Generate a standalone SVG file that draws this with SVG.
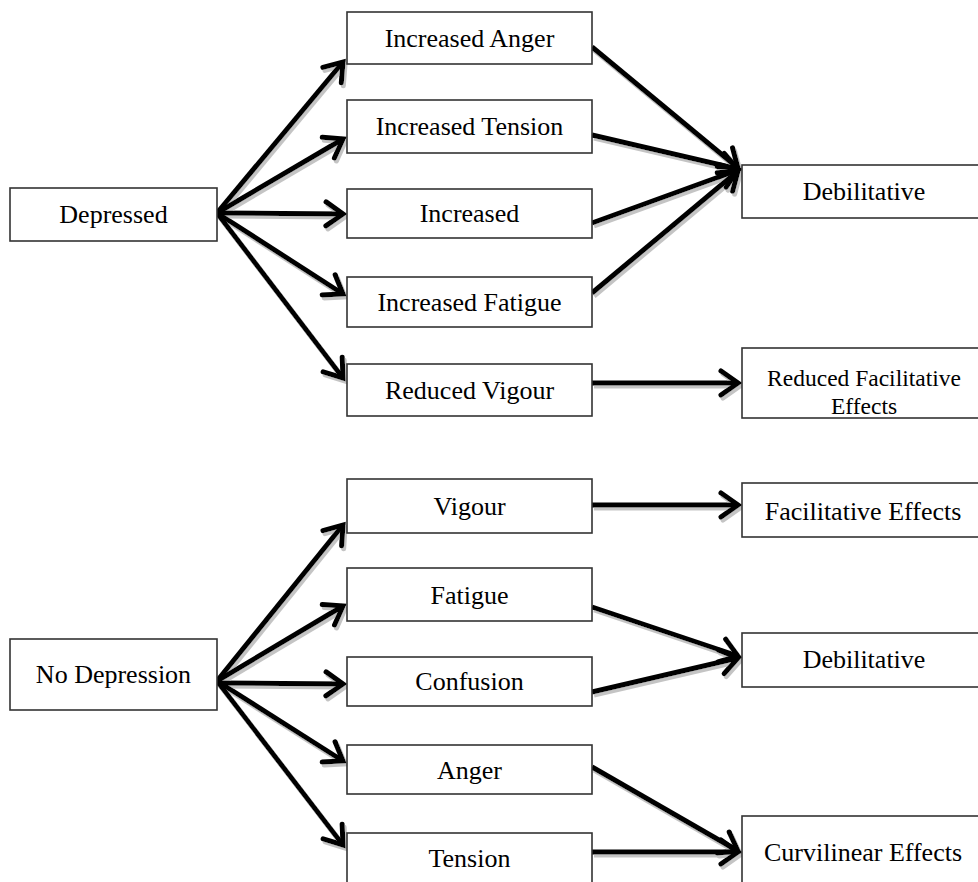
<svg xmlns="http://www.w3.org/2000/svg" width="978" height="882" viewBox="0 0 978 882">
  <style>
    .box { fill: #ffffff; stroke: #333333; stroke-width: 1.6; }
    .lbl { font-family: "Liberation Serif", "Times New Roman", serif; font-size: 26px; fill: #000000; text-anchor: middle; }
    .sm { font-size: 23.5px; }
    .arw { fill: none; stroke: #000000; stroke-width: 5; marker-end: url(#head); }
  </style>
  <defs>
    <marker id="head" markerUnits="userSpaceOnUse" viewBox="-24 -18 30 36" markerWidth="30" markerHeight="36" refX="0" refY="0" orient="auto">
      <path d="M-17,-12 L0,0 L-17,12" fill="none" stroke="#000000" stroke-width="5" stroke-linecap="round" stroke-linejoin="miter"/>
    </marker>
    <!-- soft grey drop shade under the connectors -->
    <filter id="shade" filterUnits="userSpaceOnUse" x="0" y="0" width="978" height="882">
      <feOffset in="SourceAlpha" dx="2" dy="2.5" result="off"/>
      <feFlood flood-color="#c4c4c4" result="grey"/>
      <feComposite in="grey" in2="off" operator="in" result="shadow"/>
      <feMerge>
        <feMergeNode in="shadow"/>
        <feMergeNode in="SourceGraphic"/>
      </feMerge>
    </filter>
  </defs>

  <rect width="978" height="882" fill="#ffffff"/>

  <g id="connectors" filter="url(#shade)">
    <!-- Depressed fan -->
    <path class="arw" d="M217,213 L343,62"/>
    <path class="arw" d="M217,213 L343,139"/>
    <path class="arw" d="M217,213 L343,214"/>
    <path class="arw" d="M217,213 L343,294"/>
    <path class="arw" d="M217,213 L343,378"/>
    <!-- into Debilitative -->
    <path class="arw" d="M592,47 L738,168"/>
    <path class="arw" d="M592,135 L738,169"/>
    <path class="arw" d="M592,223 L738,170"/>
    <path class="arw" d="M592,293 L738,171"/>
    <path class="arw" d="M592,383 L738,383"/>
    <!-- No Depression fan -->
    <path class="arw" d="M217,681 L343,525"/>
    <path class="arw" d="M217,681 L343,606"/>
    <path class="arw" d="M217,683 L343,684"/>
    <path class="arw" d="M217,681 L343,761"/>
    <path class="arw" d="M217,681 L343,845"/>
    <!-- right-hand outcomes -->
    <path class="arw" d="M592,505 L738,505"/>
    <path class="arw" d="M592,607 L738,656"/>
    <path class="arw" d="M592,692 L738,658"/>
    <path class="arw" d="M592,767 L738,851"/>
    <path class="arw" d="M592,852 L738,852"/>
  </g>

  <g id="n-depressed"><rect class="box" x="10" y="188" width="207" height="53"/><text class="lbl" x="113.5" y="223">Depressed</text></g>
  <g id="n-inc-anger"><rect class="box" x="347" y="12" width="245" height="52"/><text class="lbl" x="469.5" y="46.5">Increased Anger</text></g>
  <g id="n-inc-tension"><rect class="box" x="347" y="100" width="245" height="53"/><text class="lbl" x="469.5" y="135">Increased Tension</text></g>
  <g id="n-increased"><rect class="box" x="347" y="189" width="245" height="49"/><text class="lbl" x="469.5" y="222">Increased</text></g>
  <g id="n-inc-fatigue"><rect class="box" x="347" y="277" width="245" height="50"/><text class="lbl" x="469.5" y="311">Increased Fatigue</text></g>
  <g id="n-red-vigour"><rect class="box" x="347" y="364" width="245" height="52"/><text class="lbl" x="469.5" y="399">Reduced Vigour</text></g>
  <g id="n-debil-1"><rect class="box" x="742" y="165" width="250" height="53"/><text class="lbl" x="864" y="200">Debilitative</text></g>
  <g id="n-red-facil"><rect class="box" x="742" y="348" width="250" height="70"/><text class="lbl sm" x="864" y="386">Reduced Facilitative</text><text class="lbl sm" x="864" y="414">Effects</text></g>

  <g id="n-no-depression"><rect class="box" x="10" y="639" width="207" height="71"/><text class="lbl" x="113.5" y="683">No Depression</text></g>
  <g id="n-vigour"><rect class="box" x="347" y="479" width="245" height="54"/><text class="lbl" x="469.5" y="515">Vigour</text></g>
  <g id="n-fatigue"><rect class="box" x="347" y="568" width="245" height="53"/><text class="lbl" x="469.5" y="604">Fatigue</text></g>
  <g id="n-confusion"><rect class="box" x="347" y="657" width="245" height="49"/><text class="lbl" x="469.5" y="690">Confusion</text></g>
  <g id="n-anger"><rect class="box" x="347" y="745" width="245" height="49"/><text class="lbl" x="469.5" y="779">Anger</text></g>
  <g id="n-tension"><rect class="box" x="347" y="833" width="245" height="53"/><text class="lbl" x="469.5" y="867">Tension</text></g>
  <g id="n-facil"><rect class="box" x="742" y="483" width="250" height="54"/><text class="lbl" x="863" y="520">Facilitative Effects</text></g>
  <g id="n-debil-2"><rect class="box" x="742" y="633" width="250" height="54"/><text class="lbl" x="864" y="668">Debilitative</text></g>
  <g id="n-curvilinear"><rect class="box" x="742" y="816" width="250" height="72"/><text class="lbl" x="863" y="861">Curvilinear Effects</text></g>
</svg>
